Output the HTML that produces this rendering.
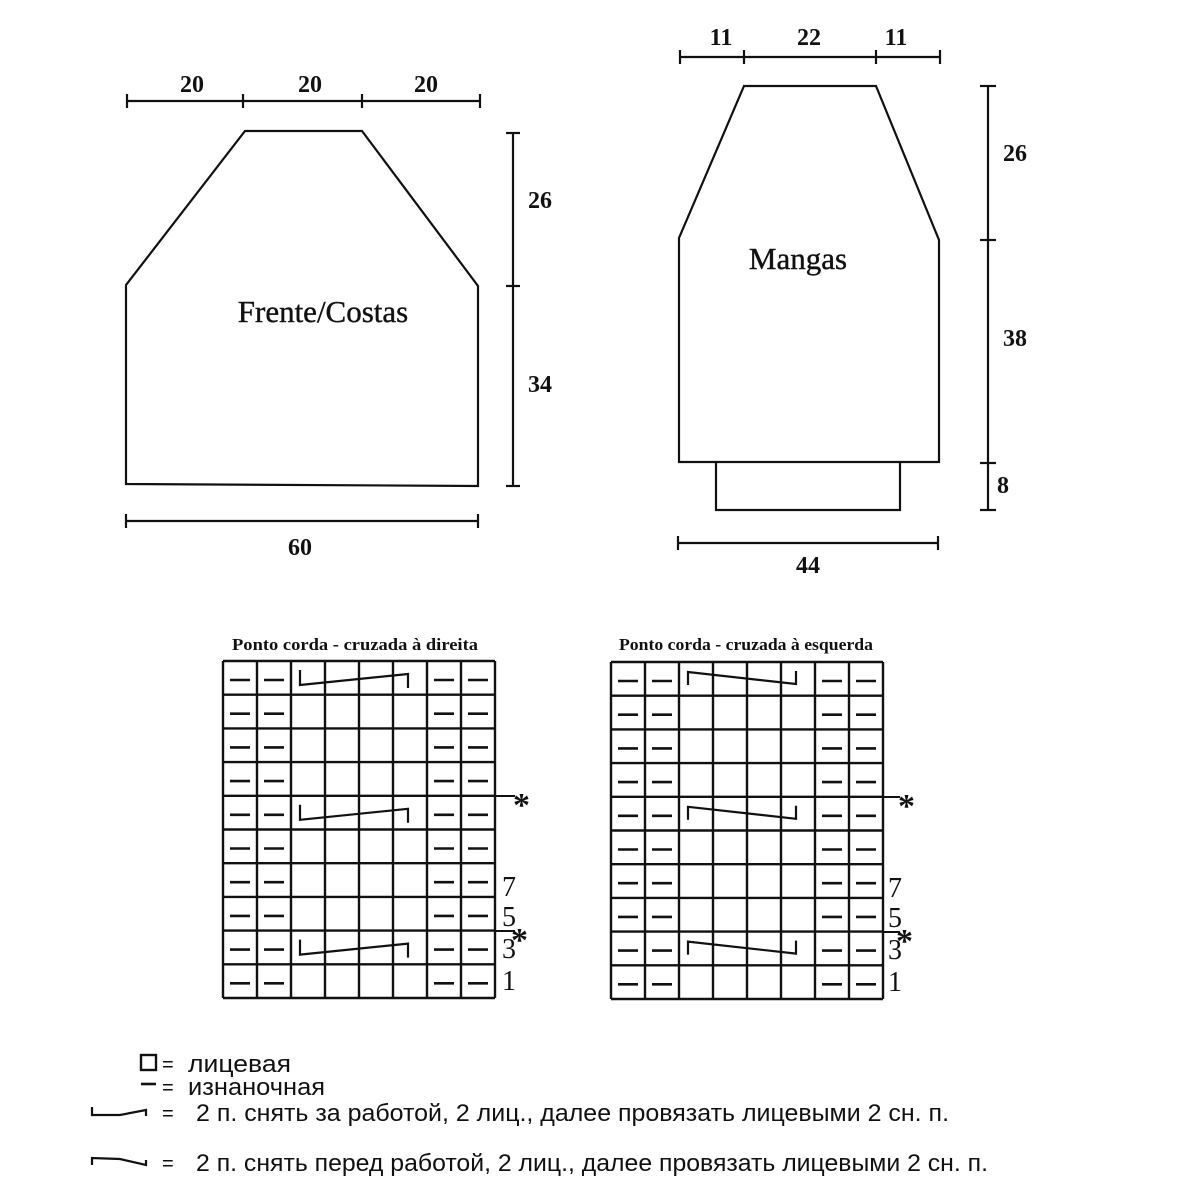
<!DOCTYPE html>
<html><head><meta charset="utf-8"><style>body{margin:0;background:#fff}svg{display:block}</style></head>
<body>
<svg width="1200" height="1200" viewBox="0 0 1200 1200" xmlns="http://www.w3.org/2000/svg">
<defs>
<g id="grid" stroke="#111" fill="none">
<g stroke-width="2.4">
<line x1="0" y1="0" x2="0" y2="337"/><line x1="34" y1="0" x2="34" y2="337"/><line x1="68" y1="0" x2="68" y2="337"/><line x1="102" y1="0" x2="102" y2="337"/><line x1="136" y1="0" x2="136" y2="337"/><line x1="170" y1="0" x2="170" y2="337"/><line x1="204" y1="0" x2="204" y2="337"/><line x1="238" y1="0" x2="238" y2="337"/><line x1="272" y1="0" x2="272" y2="337"/>
<line x1="0" y1="0" x2="272" y2="0"/><line x1="0" y1="33.7" x2="272" y2="33.7"/><line x1="0" y1="67.4" x2="272" y2="67.4"/><line x1="0" y1="101.1" x2="272" y2="101.1"/><line x1="0" y1="134.8" x2="272" y2="134.8"/><line x1="0" y1="168.5" x2="272" y2="168.5"/><line x1="0" y1="202.2" x2="272" y2="202.2"/><line x1="0" y1="235.9" x2="272" y2="235.9"/><line x1="0" y1="269.6" x2="272" y2="269.6"/><line x1="0" y1="303.3" x2="272" y2="303.3"/><line x1="0" y1="337" x2="272" y2="337"/>
</g>
<g id="drow" stroke-width="2.6">
<line x1="7" y1="19" x2="27" y2="19"/><line x1="41" y1="19" x2="61" y2="19"/><line x1="211" y1="19" x2="231" y2="19"/><line x1="245" y1="19" x2="265" y2="19"/>
</g>
<use href="#drow" y="33.7"/><use href="#drow" y="67.4"/><use href="#drow" y="101.1"/><use href="#drow" y="134.8"/><use href="#drow" y="168.5"/><use href="#drow" y="202.2"/><use href="#drow" y="235.9"/><use href="#drow" y="269.6"/><use href="#drow" y="303.3"/>
</g>
<polyline id="cabR" points="77,9 77,24 185,13 185,27" fill="none" stroke="#111" stroke-width="2.2"/>
<polyline id="cabL" points="77,23 77,10 185,22 185,9" fill="none" stroke="#111" stroke-width="2.2"/>
</defs>

<g fill="none" stroke="#111" stroke-width="2.2">
<polygon points="245,131 362,131 478,286 478,486 126,484 126,285"/>
<line x1="127" y1="101" x2="480" y2="101"/>
<line x1="127" y1="94" x2="127" y2="108"/><line x1="243" y1="94" x2="243" y2="108"/><line x1="362" y1="94" x2="362" y2="108"/><line x1="480" y1="94" x2="480" y2="108"/>
<line x1="513" y1="133" x2="513" y2="486"/>
<line x1="506" y1="133" x2="520" y2="133"/><line x1="506" y1="286" x2="520" y2="286"/><line x1="506" y1="486" x2="520" y2="486"/>
<line x1="126" y1="521" x2="478" y2="521"/>
<line x1="126" y1="514" x2="126" y2="528"/><line x1="478" y1="514" x2="478" y2="528"/>
<polygon points="744,86 876,86 939,240 939,462 679,462 679,238"/>
<polyline points="716,462 716,510 900,510 900,462"/>
<line x1="680" y1="57" x2="940" y2="57"/>
<line x1="680" y1="50" x2="680" y2="64"/><line x1="744" y1="50" x2="744" y2="64"/><line x1="876" y1="50" x2="876" y2="64"/><line x1="940" y1="50" x2="940" y2="64"/>
<line x1="988" y1="86" x2="988" y2="510"/>
<line x1="980" y1="86" x2="996" y2="86"/><line x1="980" y1="240" x2="996" y2="240"/><line x1="980" y1="463" x2="996" y2="463"/><line x1="980" y1="510" x2="996" y2="510"/>
<line x1="678" y1="543" x2="938" y2="543"/>
<line x1="678" y1="536" x2="678" y2="550"/><line x1="938" y1="536" x2="938" y2="550"/>
</g>

<g font-family="Liberation Serif, serif" font-weight="bold" font-size="24" fill="#111" text-anchor="middle">
<text x="192" y="92">20</text><text x="310" y="92">20</text><text x="426" y="92">20</text>
<text x="540" y="208">26</text><text x="540" y="392">34</text><text x="300" y="555">60</text>
<text x="721" y="45">11</text><text x="809" y="45">22</text><text x="896" y="45">11</text>
<text x="1015" y="161">26</text><text x="1015" y="346">38</text><text x="1003" y="493">8</text><text x="808" y="573">44</text>
</g>
<g font-family="Liberation Serif, serif" font-size="31" fill="#111" text-anchor="middle" stroke="#111" stroke-width="0.4">
<text x="323" y="322">Frente/Costas</text>
<text x="798" y="269">Mangas</text>
</g>

<g font-family="Liberation Serif, serif" font-weight="bold" font-size="17" fill="#111">
<text x="232" y="650" textLength="246" lengthAdjust="spacingAndGlyphs">Ponto corda - cruzada à direita</text>
<text x="619" y="650" textLength="254" lengthAdjust="spacingAndGlyphs">Ponto corda - cruzada à esquerda</text>
</g>
<use href="#grid" x="223" y="661"/>
<use href="#cabR" x="223" y="661"/><use href="#cabR" x="223" y="795.8"/><use href="#cabR" x="223" y="930.6"/>
<use href="#grid" x="611" y="662"/>
<use href="#cabL" x="611" y="662"/><use href="#cabL" x="611" y="796.8"/><use href="#cabL" x="611" y="931.6"/>
<g stroke="#111" stroke-width="2">
<line x1="495" y1="796" x2="515" y2="796"/><line x1="495" y1="931" x2="515" y2="931"/>
<line x1="883" y1="797" x2="900" y2="797"/><line x1="883" y1="932" x2="900" y2="932"/>
</g>
<g font-family="Liberation Serif, serif" font-weight="bold" font-size="34" fill="#111">
<text x="513" y="816">*</text><text x="511" y="951">*</text>
<text x="898" y="817">*</text><text x="896" y="952">*</text>
</g>
<g font-family="Liberation Serif, serif" font-size="28" fill="#111">
<text x="502" y="896">7</text><text x="502" y="926">5</text><text x="502" y="958">3</text><text x="502" y="990">1</text>
<text x="888" y="897">7</text><text x="888" y="927">5</text><text x="888" y="959">3</text><text x="888" y="991">1</text>
</g>

<rect x="141" y="1055" width="15" height="15" fill="none" stroke="#111" stroke-width="2.4"/>
<line x1="141" y1="1084" x2="156" y2="1084" stroke="#111" stroke-width="2.6"/>
<polyline points="92,1107 92,1115 120,1115 146,1110 146,1116" fill="none" stroke="#111" stroke-width="2.2"/>
<polyline points="92,1165 92,1158 120,1159 146,1165 146,1160" fill="none" stroke="#111" stroke-width="2.2"/>
<g font-family="Liberation Sans, sans-serif" font-size="24" fill="#111">
<text x="162" y="1071" font-size="20">=</text><text x="162" y="1094" font-size="20">=</text><text x="162" y="1120" font-size="20">=</text><text x="162" y="1170" font-size="20">=</text>
<text x="188" y="1072" textLength="103" lengthAdjust="spacingAndGlyphs">лицевая</text>
<text x="188" y="1095" textLength="137" lengthAdjust="spacingAndGlyphs">изнаночная</text>
<text x="196" y="1121" textLength="753" lengthAdjust="spacingAndGlyphs">2 п. снять за работой, 2 лиц., далее провязать лицевыми 2 сн. п.</text>
<text x="196" y="1171" textLength="792" lengthAdjust="spacingAndGlyphs">2 п. снять перед работой, 2 лиц., далее провязать лицевыми 2 сн. п.</text>
</g>
</svg>
</body></html>
